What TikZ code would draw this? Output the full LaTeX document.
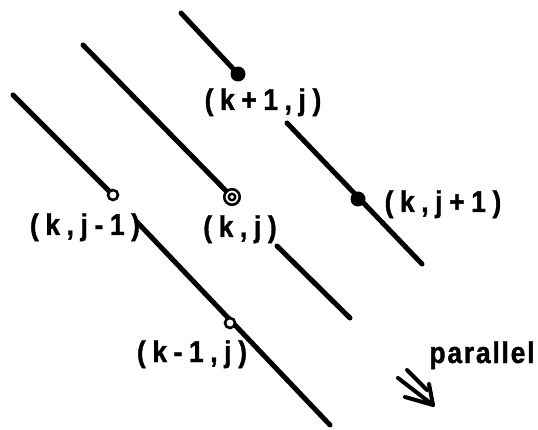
\documentclass[tikz,border=0pt]{standalone}
\usepackage{fontspec}
\newfontfamily\labfont[LetterSpace=22,FakeStretch=0.88,FakeBold=1.2]{Liberation Sans Bold}
\newfontfamily\parfont[LetterSpace=6,FakeStretch=0.88,FakeBold=1.2]{Liberation Sans Bold}
\begin{document}
\begin{tikzpicture}[x=1pt,y=-1pt,
  ln/.style={line width=5pt,line cap=round},
  fdot/.style={circle,fill=black,inner sep=0pt,minimum size=15pt},
  odot/.style={circle,draw=black,line width=2.6pt,fill=white,inner sep=0pt,minimum size=10pt},
  ddot/.style={circle,draw=black,line width=2.6pt,fill=white,inner sep=0pt,minimum size=15.5pt,
    append after command={node[circle,draw=black,line width=2.4pt,inner sep=0pt,minimum size=6.5pt] at (\tikzlastnode.center) {}}},
  lab/.style={anchor=base,inner sep=0pt,font=\labfont\fontsize{30}{33}\selectfont},
  plab/.style={anchor=base,inner sep=0pt,font=\parfont\fontsize{30}{33}\selectfont},
  arr/.style={line width=4pt,line cap=round,line join=round}]
\useasboundingbox (0,0) rectangle (538,430);
% line end coordinates
\coordinate (a0) at (181,13);
\coordinate (a1) at (287,123);
\coordinate (a2) at (422,264);
\coordinate (b0) at (83,45);
\coordinate (b1) at (277,246);
\coordinate (b2) at (350,318);
\coordinate (c0) at (13,95);
\coordinate (c1) at (137,222);
\coordinate (c2) at (330,425);
% lines
\draw[ln] (a0) -- (238,74) coordinate (pa);
\draw[ln] (a1) -- (a2);
\draw[ln] (b0) -- (232,197) coordinate (pb);
\draw[ln] (b1) -- (b2);
\draw[ln] (c0) -- (113,195) coordinate (pc);
\draw[ln] (c1) -- (c2);
% points
\node[fdot] (kp1j) at (pa) {};
\node[fdot] (kjp1) at (358,199) {};
\node[ddot] (kj) at (pb) {};
\node[odot] (kjm1) at (pc) {};
\node[odot] (km1j) at (230,323) {};
% labels
\node[lab] (lkp1j) at (263,110) {(k+1,j)};
\node[lab] (lkjm1) at (85,235) {(k,j-1)};
\node[lab] (lkj) at (240,237) {(k,j)};
\node[lab] (lkjp1) at (443,212) {(k,j+1)};
\node[lab] (lkm1j) at (192,362) {(k-1,j)};
\node[plab] (lpar) at (482,363) {parallel};
% double arrow
\coordinate (s1) at (398,378);
\coordinate (s2) at (407,370);
\coordinate (s2e) at (427,390);
\coordinate (tip) at (433,405);
\coordinate (h1) at (405,397);
\coordinate (h2) at (429,384);
\draw[arr] (s1) -- (tip);
\draw[arr] (s2) -- (s2e);
\draw[arr] (h1) -- (tip) -- (h2);
\end{tikzpicture}
\end{document}
